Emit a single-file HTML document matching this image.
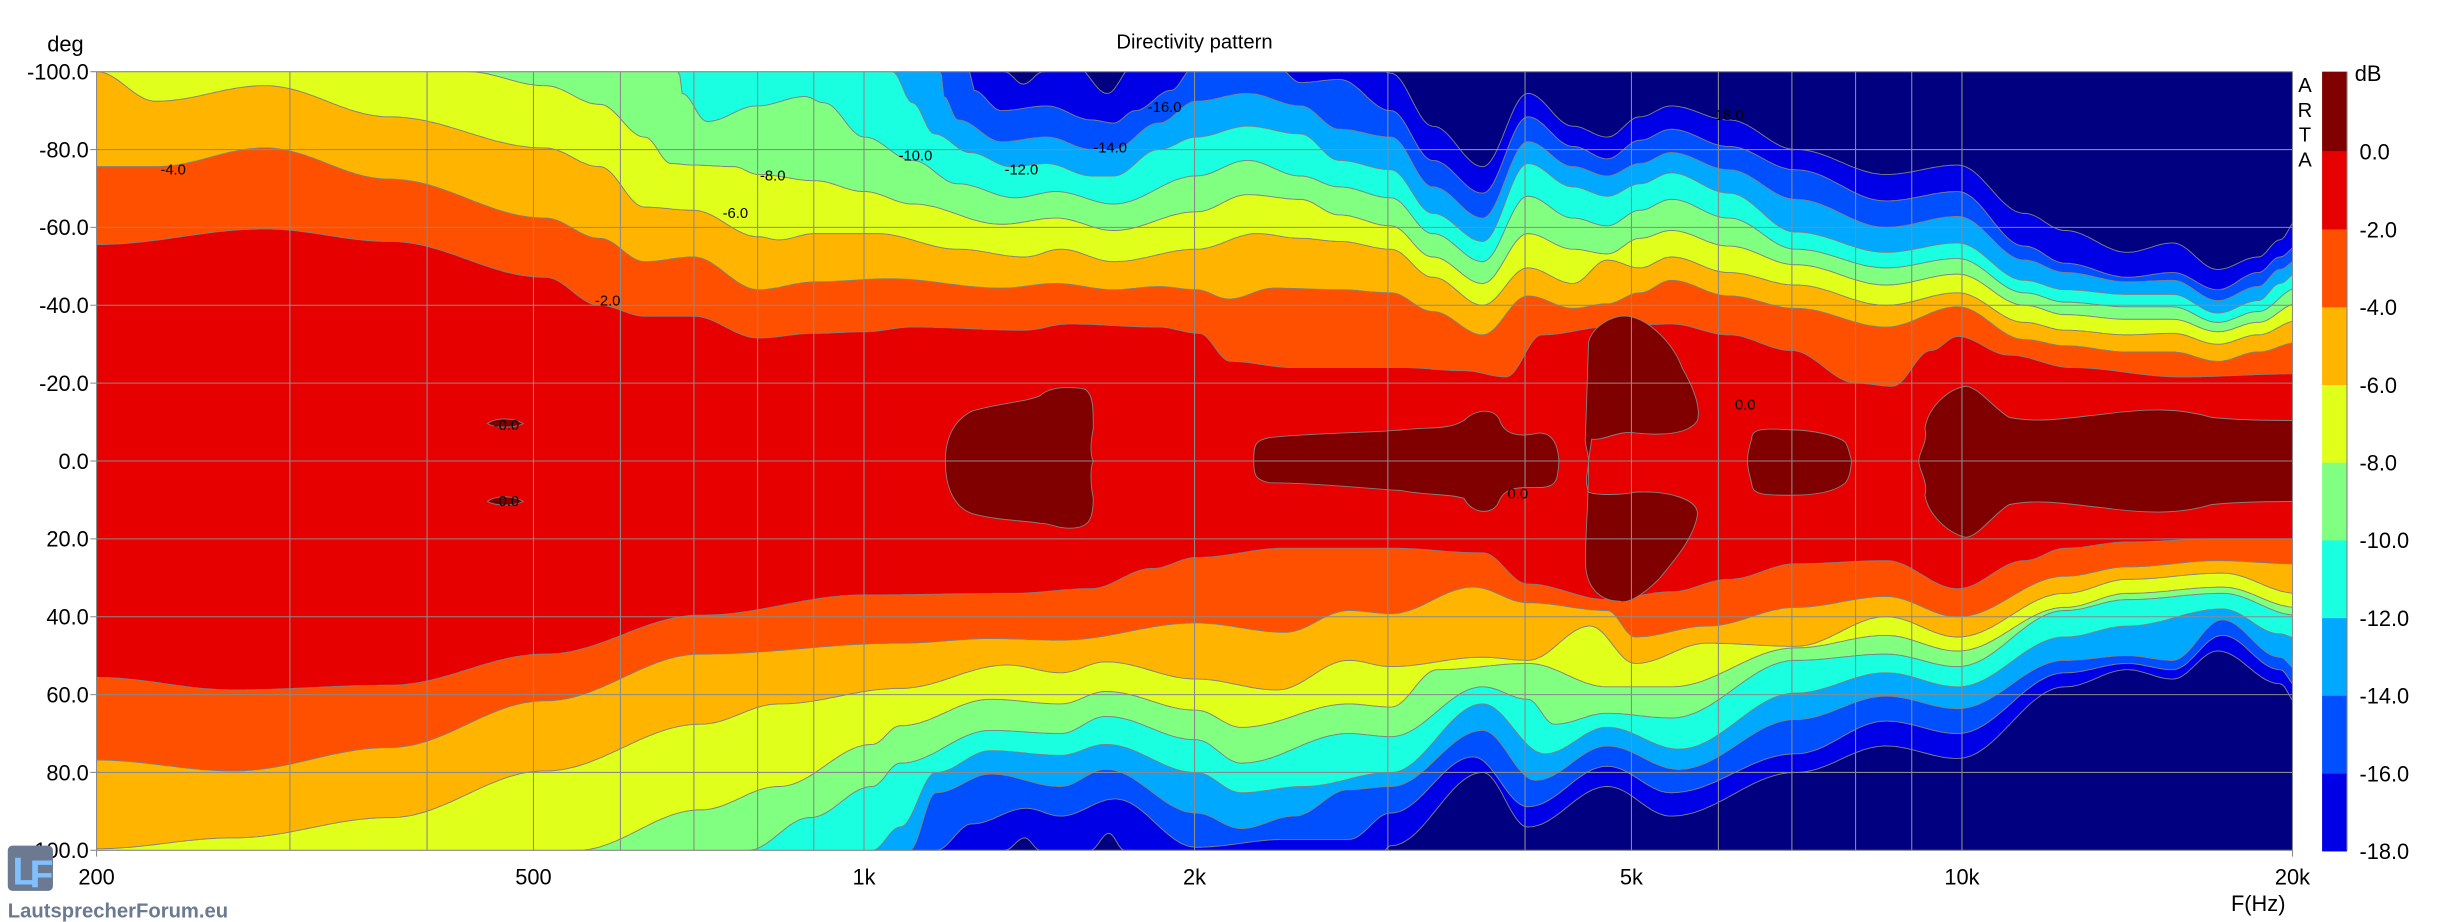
<!DOCTYPE html>
<html><head><meta charset="utf-8"><style>
html,body{margin:0;padding:0;background:#fff;}
svg{display:block}
text{font-family:"Liberation Sans",Arial,sans-serif;}
</style></head><body>
<svg id="s" width="2442" height="922" viewBox="0 0 1568 592" xmlns="http://www.w3.org/2000/svg">
<defs><clipPath id="cp"><rect x="62" y="46" width="1410" height="500"/></clipPath></defs>
<g id="plot" clip-path="url(#cp)"><rect x="62" y="46" width="1410" height="500" fill="#000080"/></g>
<g id="grid"></g>
<g id="lbl" font-size="9.5" fill="#000">
<text x="103" y="112">-4.0</text><text x="464" y="140">-6.0</text><text x="488" y="116">-8.0</text>
<text x="577" y="103">-10.0</text><text x="645" y="112">-12.0</text><text x="702" y="98">-14.0</text>
<text x="737" y="72">-16.0</text><text x="1098" y="77">-18.0</text><text x="382" y="196">-2.0</text>
<text x="317" y="276">-0.0</text><text x="317" y="325">-0.0</text><text x="968" y="320">0.0</text><text x="1114" y="263">0.0</text>
</g>
<text x="767" y="31" font-size="13" text-anchor="middle">Directivity pattern</text>
<text x="42" y="33" font-size="14" text-anchor="middle">deg</text>
<g id="yl" font-size="14" text-anchor="end"></g>
<g id="xl" font-size="14" text-anchor="middle"></g>
<text x="1450" y="585" font-size="14" text-anchor="middle">F(Hz)</text>
<g font-size="13" text-anchor="middle"><text x="1480" y="59">A</text><text x="1480" y="75">R</text><text x="1480" y="91">T</text><text x="1480" y="107">A</text></g>
<g id="cb"></g>
<text x="1512" y="52" font-size="14">dB</text>
<rect x="5" y="543" width="29" height="29" rx="3" fill="#6b7a90"/>
<text x="8" y="568" font-size="25" font-weight="bold" fill="#80c0ff">L</text>
<text x="19" y="570" font-size="25" font-weight="bold" fill="#80c0ff">F</text>
<text x="5" y="589" font-size="13" font-weight="bold" fill="#6b7a90">LautsprecherForum.eu</text>
</svg>
<script>
const NS="http://www.w3.org/2000/svg";
function el(p,t,a){const e=document.createElementNS(NS,t);for(const k in a)e.setAttribute(k,a[k]);p.appendChild(e);return e;}
const X=f=>62+705*Math.log10(f/200);
const cols=["#800000","#e60000","#ff5000","#ffb400","#e0ff1a","#80ff80","#1affe0","#00a8ff","#0050ff","#0000e6","#000080"];
function P(s){return s.trim().split(/[\s,]+/).map(t=>t.split(":").map(Number));}
const T={
2:P("62:157,170:147,250:155,350:178,385:196,414:203,445:203,487:217,523:214,555:213,586:210,658:212,686:208,744:210,770:214,790:232,830:236,900:236,940:238,967:242,990:215,1032:210,1073:208,1110:215,1150:225,1192:246,1215:248,1240:225,1257:216,1290:228,1330:236,1400:242,1475:240"),
4:P("62:107,100:107,170:95,250:115,350:140,385:153,414:168,445:165,487:186,523:181,571:179,643:185,678:182,715:186,744:184,768:186,789:192,818:185,860:186,893:188,920:200,952:215,981:190,1010:198,1032:195,1053:188,1073:180,1110:190,1153:198,1211:210,1257:197,1300:218,1326:222,1366:226,1395:226,1424:232,1450:226,1475:220"),
6:P("62:46,100:65,170:55,250:75,350:95,385:107,414:133,445:135,487:152,500:154,523:150,563:150,615:160,658:165,681:160,715:168,768:160,807:150,835:153,860:155,893:160,920:178,952:196,981:172,1010:182,1032:167,1053:172,1073:165,1110:175,1153:183,1211:196,1257:188,1300:207,1326:212,1366:215,1395:214,1424:221,1450:215,1475:206"),
8:P("62:-10,280:20,300:46,350:55,385:67,414:88,431:105,445:106,471:107,487:112,523:116,555:123,586:131,643:144,678:140,715:148,768:136,801:125,835:128,860:138,893:145,920:165,952:182,981:150,1010:160,1032:163,1053:153,1073:148,1110:158,1153:170,1211:183,1257:176,1300:196,1326:202,1366:205,1395:205,1424:213,1450:207,1475:195"),
10:P("62:-10,420:20,436:46,438:60,454:78,486:68,517:62,529:66,555:88,586:103,615:118,652:127,678:123,715:131,768:113,801:103,835:113,860:120,893:127,920:150,952:168,981:126,1010:140,1032:145,1053:135,1073:128,1110:140,1153:160,1211:172,1257:166,1300:188,1326:194,1366:197,1395:197,1424:207,1450:200,1475:185"),
12:P("62:-10,560:20,573:46,586:66,600:86,623:98,649:107,672:105,701:113,715:113,744:96,768:88,801:81,835:86,860:103,893:109,920:137,952:155,981:105,1010:120,1032:126,1053:118,1073:111,1110:124,1153:149,1211:162,1257:156,1300:180,1326:186,1366:189,1395:189,1424:201,1450:193,1464:182,1475:175"),
14:P("62:-10,595:20,604:46,606:62,615:77,643:91,672:88,701:96,715:96,744:79,768:65,801:60,835:68,860:83,893:88,920:120,952:140,981:91,1010:107,1032:113,1053:105,1073:98,1110:109,1153:128,1211:146,1257:139,1300:167,1326:175,1366:181,1395:180,1424:193,1450:184,1464:173,1475:167"),
16:P("62:-10,615:20,623:46,625:58,643:71,672:68,701:77,715:79,729:71,752:58,766:44,821:44,835:53,860:51,893:71,920:103,952:124,981:75,1010:94,1032:102,1053:90,1073:83,1110:94,1153:109,1211:129,1257:123,1300:158,1326:169,1366:178,1395:175,1424:186,1450:175,1464:165,1475:158"),
18:P("62:-10,635:20,645:46,657:54,670:46,690:42,711:60,728:42,880:40,893:47,920:81,952:107,981:60,1010:81,1032:88,1053:75,1073:68,1110:77,1153:96,1211:112,1257:106,1300:137,1326:148,1366:162,1395:156,1424:173,1450:165,1464:154,1475:141")};
const B={
2:P("62:435,150:443,250:440,350:420,450:395,555:382,650:381,700:378,740:365,768:358,825:352,893:352,952:355,981:375,1032:385,1073:380,1110:372,1153:362,1211:360,1257:378,1300:360,1326:352,1366:348,1424:346,1475:346"),
4:P("62:488,150:495,250:480,350:450,450:420,578:413,636:410,681:411,768:400,825:406,866:392,893:394,946:377,981:387,1032:392,1050:409,1096:402,1153:390,1211:383,1257:396,1326:370,1366:364,1424:360,1475:362"),
6:P("62:545,150:538,250:525,350:495,450:465,500:452,578:442,647:427,681:432,710:425,768:436,820:443,866:424,893:428,952:422,981:424,1021:402,1050:426,1096:413,1153:415,1211:396,1257:409,1326:381,1366:372,1427:368,1475:381"),
8:P("62:600,280:600,300:560,370:546,450:520,500:505,560:478,578:466,636:449,681:452,710:444,768:456,797:467,866:452,893:454,923:430,981:426,1032:441,1073:441,1153:416,1211:408,1257:418,1326:390,1366:381,1427:377,1475:390"),
10:P("62:600,420:600,440:560,480:546,520:525,560:505,578:490,636:469,681:471,710:460,768:475,797:490,866:471,893:473,952:441,981:449,998:465,1032:458,1073:461,1153:424,1211:420,1257:428,1326:392,1366:385,1427:381,1475:395"),
12:P("62:600,500:600,520:560,560:546,578:531,601:496,636:482,681:485,710:478,768:496,797:509,837:505,893:496,952:452,992:484,1032:467,1078:481,1153:445,1211:432,1257:441,1326:409,1366:402,1427:391,1464:407,1475:410"),
14:P("62:600,570:600,584:546,601:509,636:497,681:505,710:494,768:522,797:532,831:524,866:507,893:505,952:469,986:501,1032:479,1078:494,1153:462,1211:447,1257:455,1326:424,1366:421,1395:424,1427:398,1464:422,1475:430"),
16:P("62:600,595:600,601:546,624:529,659:519,681:524,716:513,768:544,825:539,866:539,893:522,946:486,981:518,1032:492,1073:509,1153:484,1211:463,1257:471,1326:432,1366:426,1395:430,1427:408,1464:430,1475:441"),
18:P("62:600,640:600,645:546,658:538,668:546,700:546,712:535,722:546,880:560,893:543,952:496,981:531,1032:505,1073:524,1153:496,1211:479,1257:487,1326:441,1366:430,1395:436,1424:418,1464:439,1475:452")};
function interp(pts,x){if(x<=pts[0][0])return pts[0][1];for(let i=1;i<pts.length;i++){if(x<=pts[i][0]){const a=pts[i-1],b=pts[i];const t=(x-a[0])/(b[0]-a[0]);const s=(1-Math.cos(Math.PI*t))/2;return a[1]+(b[1]-a[1])*s;}}return pts[pts.length-1][1];}
const xs=[];for(let x=60;x<=1476;x+=1.5)xs.push(x);
const TY={},BY={};
[2,4,6,8,10,12,14,16,18].forEach(L=>{
  TY[L]=xs.map((x,i)=>{let y=interp(T[L],x);if(L>2)y=Math.min(y,TY[L-2][i]-0.5);return y;});
  BY[L]=xs.map((x,i)=>{let y=interp(B[L],x);if(L>2)y=Math.max(y,BY[L-2][i]+0.5);return y;});
});
const plot=document.getElementById("plot");
[18,16,14,12,10,8,6,4,2].forEach(L=>{
  const top=xs.map((x,i)=>x.toFixed(1)+","+TY[L][i].toFixed(1));
  const bot=xs.map((x,i)=>x.toFixed(1)+","+BY[L][i].toFixed(1)).reverse();
  el(plot,"path",{d:"M"+top.join("L")+"L"+bot.join("L")+"Z",fill:cols[L/2],stroke:"#808080","stroke-width":0.6});
});
const blobs=[
"M607,296 C607,282 612,270 624,264 C640,259 660,258 668,254 C674,248 688,248 697,250 C702,254 702,262 702,275 C700,285 700,292 702,296 C700,300 700,310 702,320 C702,335 698,338 690,339 C680,340 675,336 668,336 C655,334 640,334 625,330 C612,326 607,312 607,296Z",
"M805,296 C805,285 806,283 815,281 C840,278 880,278 900,276 C920,274 930,276 940,270 C948,262 960,262 963,270 C966,279 975,281 988,278 C995,278 1000,282 1001,296 C1000,308 1000,312 990,313 C975,313 966,312 962,323 C958,331 945,330 940,320 C930,317 915,318 900,315 C870,313 840,310 815,310 C806,308 805,305 805,296Z",
"M1020,296 C1020,290 1017,285 1018,280 L1020,220 C1022,210 1035,202 1045,203 C1060,205 1075,222 1080,236 C1088,250 1092,262 1090,270 C1085,278 1070,280 1050,278 C1040,276 1030,283 1022,282 Z",
"M1020,296 C1020,302 1017,308 1020,316 C1025,318 1040,318 1050,316 C1070,315 1090,320 1090,330 C1088,345 1075,360 1065,372 C1055,382 1045,388 1040,386 C1030,386 1018,380 1018,360 C1018,340 1020,325 1020,296Z",
"M1122,296 C1122,289 1124,286 1125,280 C1126,275 1135,275 1150,276 C1165,276 1180,280 1185,284 C1188,290 1188,294 1189,296 C1188,302 1188,306 1185,310 C1178,316 1165,318 1150,318 C1135,318 1126,318 1125,312 C1124,306 1122,302 1122,296Z",
"M1232,296 C1232,290 1238,285 1236,275 C1238,262 1250,250 1262,248 C1270,248 1280,262 1290,268 C1310,272 1330,268 1350,266 C1380,262 1400,262 1420,268 C1440,270 1460,270 1472,270 L1472,322 C1460,322 1440,322 1420,324 C1400,330 1380,330 1350,326 C1330,324 1310,320 1290,324 C1280,330 1270,345 1262,345 C1250,342 1238,330 1236,318 C1238,308 1232,302 1232,296Z",
"M313,272 C318,268 330,268 336,272 C330,275 318,275 313,272Z",
"M313,322 C318,318 330,318 336,322 C330,325 318,325 313,322Z"];
blobs.forEach(d=>el(plot,"path",{d:d,fill:cols[0],stroke:"#808080","stroke-width":0.6}));
const g=document.getElementById("grid");
const fs=[200,300,400,500,600,700,800,900,1000,2000,3000,4000,5000,6000,7000,8000,9000,10000,20000];
fs.forEach(f=>{const x=X(f);el(g,"line",{x1:x,y1:46,x2:x,y2:(f==200||f==20000)?550:546,stroke:"#8a8a8a","stroke-width":0.7});});
for(let i=0;i<=10;i++){const y=46+50*i;el(g,"line",{x1:58,y1:y,x2:1472,y2:y,stroke:"#8a8a8a","stroke-width":0.7});}
const yl=document.getElementById("yl");
for(let i=0;i<=10;i++){const v=-100+20*i;const t=el(yl,"text",{x:57,y:46+50*i+5});t.textContent=v.toFixed(1);}
const xl=document.getElementById("xl");
[[200,"200"],[500,"500"],[1000,"1k"],[2000,"2k"],[5000,"5k"],[10000,"10k"],[20000,"20k"]].forEach(a=>{const t=el(xl,"text",{x:X(a[0]),y:568});t.textContent=a[1];});
const cb=document.getElementById("cb");
el(cb,"rect",{x:1491,y:46,width:16,height:51.5,fill:cols[0]});
for(let i=0;i<9;i++){el(cb,"rect",{x:1491,y:97.5+49.9*i,width:16,height:50,fill:cols[i+1]});}
el(cb,"line",{x1:1507,y1:46,x2:1507,y2:546,stroke:"#808080","stroke-width":0.7});
for(let i=0;i<10;i++){const t=el(cb,"text",{x:1515,y:97.5+49.9*i+5,"font-size":14});t.textContent=(-2*i).toFixed(1);}
</script>
</body></html>
